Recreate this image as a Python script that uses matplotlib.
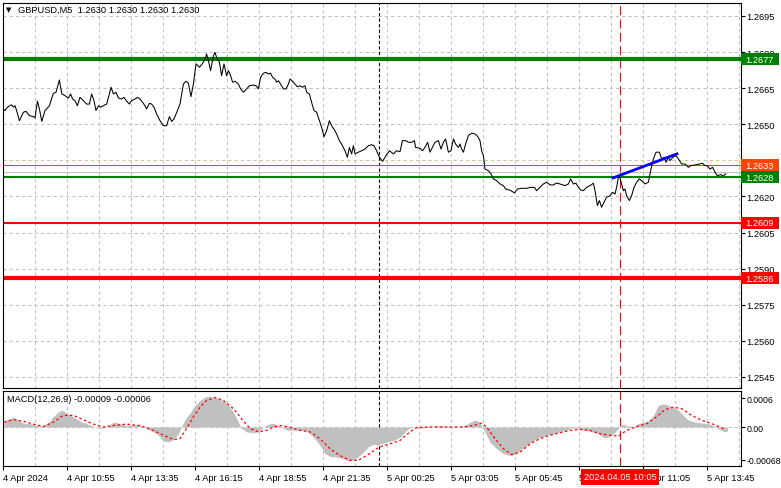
import matplotlib
matplotlib.use('Agg')
import matplotlib.pyplot as plt
from matplotlib.patches import Rectangle
from matplotlib.transforms import blended_transform_factory

plt.rcParams['font.family'] = ['Liberation Sans', 'DejaVu Sans']
FS = 6.7

# GBPUSD M5 close (bar index, price)
price_bar = [
    0, 0.5, 1.7, 3.8, 4.7, 5.5, 6.3, 7.7, 9.7, 11,
    12.7, 14.7, 15.5, 16.7, 17.7, 18.9, 20.5, 21.3, 22.7, 24.7,
    26, 27.7, 28.9, 30.5, 32.2, 33.3, 34.3, 35.5, 36.7, 38,
    39.7, 41.3, 42.7, 43.8, 45, 46, 47.2, 48.3, 49.7, 51.3,
    52.7, 53.5, 54.7, 56, 57.2, 58.8, 60, 61.3, 62.7, 63.8,
    65.5, 66.7, 68, 69.3, 70.5, 71.3, 72.7, 73.8, 75, 76.3,
    78, 79.7, 81.3, 82.7, 83.8, 85, 86.7, 88, 89.7, 91,
    92.2, 93.5, 94.7, 96, 97.7,
    99.3, 100.5, 101.3, 102.2, 103.3, 104.7, 105.5, 106.3, 107.7, 108.8,
    110, 111.3, 112.2, 113.3, 114.3, 115.5, 117.2, 118.3, 119.7, 121.3,
    122.7, 124.7, 126, 127.2, 128.3, 129.7, 131, 132.2, 133.3, 134.3,
    135.5, 136.3, 137.2, 138.3, 139.7, 141, 142.2, 143, 144.3, 145.5,
    146.7, 148, 149.3, 150.5, 151.3, 152.7, 153.8, 155, 156.3, 157.7,
    158.8, 160, 161.3, 162.7, 163.8, 165, 166.3, 167.7, 168.8, 170.5,
    171.7, 172.7, 173.8, 174.7, 175.5, 177.2, 178.8, 180.5, 182.2, 183.8,
    185, 186.3, 187.7, 189.3, 191, 192.7,
    194.7, 196.3, 198, 199.2, 200.8, 202.2, 203.8, 205.2, 205.8, 208,
    209.2, 210.5, 211.8, 213, 214.2, 215.5, 217.2, 218.5, 219.7, 220.8,
    222.2, 223.5, 224.7, 225.8, 227.2, 228, 228.8, 229.7, 230.8, 232.2,
    233.8, 235.5, 236.8, 238, 238.8, 239.7, 240.5, 242.2, 243.5, 244.7,
    246.3, 248, 249.7, 250.8, 252.2, 253.5, 255.2, 256.8, 258.8, 261.3,
    263.5, 265.2, 266.3, 268, 269.7, 271.3, 273, 274.7, 276.3, 278,
    280.5, 282.2, 283.3, 284.7, 286, 287.2, 288.3, 289.7, 291.3, 293,
    294.7, 295.5, 296.7, 297.7, 298.8, 300, 301.3, 303, 304.3, 305.5,
    306.3, 307.2, 307.7, 308.8, 309.7, 310.5, 311.3, 312.7, 313.8, 315,
    316.3, 317.7, 318.8, 320.5, 322.2, 323.3, 324.7, 326, 327.7, 328.8,
    330, 331, 332.2, 333, 334.7, 336, 337.2, 338.8, 340.5, 342.2,
    343.3, 346.3, 349.3, 350.5, 351.7, 353, 354.3, 355.5, 356.7, 358.3,
    359.7, 360.8,
]
price_close = [
    1.26560, 1.26557, 1.26571, 1.26581, 1.26571, 1.26577, 1.26557, 1.26515, 1.26550, 1.26554,
    1.26536, 1.26532, 1.26526, 1.26596, 1.26564, 1.26512, 1.26557, 1.26564, 1.26577, 1.26629,
    1.26633, 1.26684, 1.26626, 1.26619, 1.26609, 1.26626, 1.26605, 1.26598, 1.26577, 1.26612,
    1.26598, 1.26584, 1.26584, 1.26626, 1.26598, 1.26557, 1.26577, 1.26571, 1.26577, 1.26584,
    1.26626, 1.26654, 1.26626, 1.26633, 1.26609, 1.26605, 1.26612, 1.26596, 1.26584, 1.26598,
    1.26605, 1.26612, 1.26605, 1.26591, 1.26577, 1.26564, 1.26587, 1.26584, 1.26571, 1.26543,
    1.26515, 1.26494, 1.26494, 1.26532, 1.26512, 1.26522, 1.26557, 1.26584, 1.26667, 1.26679,
    1.26670, 1.26615, 1.26667, 1.26751, 1.26737,
    1.26753, 1.26771, 1.26792, 1.26764, 1.26723, 1.26785, 1.26799, 1.26778, 1.26758, 1.26702,
    1.26751, 1.26702, 1.26723, 1.26702, 1.26675, 1.26679, 1.26667, 1.26647, 1.26633, 1.26647,
    1.26660, 1.26663, 1.26660, 1.26647, 1.26695, 1.26712, 1.26716, 1.26709, 1.26712, 1.26695,
    1.26688, 1.26675, 1.26681, 1.26667, 1.26647, 1.26647, 1.26667, 1.26688, 1.26679, 1.26667,
    1.26656, 1.26660, 1.26654, 1.26660, 1.26633, 1.26626, 1.26591, 1.26557, 1.26550, 1.26515,
    1.26488, 1.26448, 1.26473, 1.26515, 1.26494, 1.26480, 1.26460, 1.26432, 1.26418, 1.26390,
    1.26363, 1.26404, 1.26377, 1.26411, 1.26377, 1.26384, 1.26390, 1.26397, 1.26411, 1.26415,
    1.26411, 1.26390, 1.26363, 1.26346, 1.26370, 1.26390,
    1.26377, 1.26390, 1.26386, 1.26432, 1.26432, 1.26425, 1.26425, 1.26432, 1.26404, 1.26400,
    1.26390, 1.26404, 1.26425, 1.26384, 1.26404, 1.26425, 1.26432, 1.26397, 1.26425, 1.26439,
    1.26384, 1.26390, 1.26439, 1.26418, 1.26404, 1.26418, 1.26397, 1.26384, 1.26418, 1.26453,
    1.26463, 1.26460, 1.26450, 1.26432, 1.26390, 1.26370, 1.26314, 1.26307, 1.26294, 1.26273,
    1.26266, 1.26252, 1.26245, 1.26231, 1.26228, 1.26224, 1.26215, 1.26231, 1.26234, 1.26234,
    1.26238, 1.26238, 1.26224, 1.26238, 1.26252, 1.26259, 1.26248, 1.26248, 1.26256, 1.26252,
    1.26245, 1.26252, 1.26273, 1.26252, 1.26255, 1.26238, 1.26227, 1.26224, 1.26238, 1.26245,
    1.26255, 1.26224, 1.26162, 1.26183, 1.26155, 1.26176, 1.26197, 1.26203, 1.26217, 1.26210,
    1.26238, 1.26280, 1.26286, 1.26252, 1.26224, 1.26231, 1.26203, 1.26183, 1.26203, 1.26238,
    1.26259, 1.26273, 1.26266, 1.26252, 1.26259, 1.26307, 1.26356, 1.26384, 1.26384, 1.26356,
    1.26363, 1.26342, 1.26363, 1.26349, 1.26365, 1.26370, 1.26356, 1.26335, 1.26335, 1.26321,
    1.26328, 1.26332, 1.26338, 1.26328, 1.26328, 1.26314, 1.26321, 1.26301, 1.26286, 1.26291,
    1.26285, 1.26294,
]

# MACD main (grey histogram)
hist_bar = [
    0, 1.3, 3.8, 5.5, 7.2, 9.7, 13, 16.3, 19.7, 22.2,
    24.7, 27.2, 28.8, 31.3, 34.7, 38, 41.3, 44.7, 48, 51.3,
    53.8, 55.5, 58, 61.3, 64.7, 68, 71.3, 74.7, 77.2, 79.7,
    82.2, 84.7, 87.2, 88.8, 90.5, 93, 95.5, 98, 100.5, 102.2,
    104.7, 107.2, 109.7, 112.2, 114.7, 117.2, 118.8, 121.3, 124.7, 127.2,
    129.7, 132.2, 134.7, 137.2, 139.7, 142.2, 144.7, 148, 151.3, 154.7,
    158, 160.5, 163, 166.3, 169.7, 172.2, 174.7, 177.2, 179.7, 182.2,
    184.7, 187.2,
    188, 191.3, 194.7, 198, 201.3, 203.8, 206.3, 209.7, 214.7, 218,
    221.3, 226.3, 230.5, 233, 235.5, 237.2, 238.8, 240.5, 243, 246.3,
    249.7, 253, 255.5, 258, 261.3, 264.7, 268, 271.3, 274.7, 278,
    281.3, 283.8, 287.2, 290.5, 293.8, 297.2, 299.7, 302.2, 304.7, 307.2,
    308.8, 311.3, 314.7, 317.2, 319.7, 322.2, 324.7, 327.2, 329.7, 332.2,
    334.7, 337.2, 339.7, 342.2, 345.5, 348.8, 352.2, 355.5, 358, 360.5,
    361.7,
]
hist_val = [
    0.0001, 0.00015, 0.00019, 0.00019, 0.00014, 0.00008, 0.00007, 0.00003, 0.00002, 0.0001,
    0.00022, 0.00031, 0.00035, 0.00029, 0.00021, 0.00012, 0.00007, 0.00001, -0.00003, -0.00001,
    0.00008, 0.0001, 0.00007, 0.00003, 0.00005, 0.00003, -0.00003, -0.0001, -0.00017, -0.00029,
    -0.00031, -0.00026, -0.00014, 0.00001, 0.00015, 0.00029, 0.00045, 0.00055, 0.00062, 0.00064,
    0.00062, 0.00059, 0.00054, 0.00045, 0.00031, 0.0001, -0.00003, -0.0001, -0.00012, -0.0001,
    0.0, 0.00006, 0.00008, 0.00003, -0.00003, -0.00007, -0.00006, -0.00007, -0.00008, -0.00021,
    -0.00038, -0.00055, -0.00061, -0.00062, -0.00066, -0.0007, -0.00069, -0.00061, -0.00052, -0.00041,
    -0.00036, -0.00038,
    -0.00035, -0.00031, -0.00028, -0.00021, -0.00007, 0.00001, -0.00003, -0.00002, 0.00001, 0.00003,
    0.0, -0.00001, 0.00003, 0.0001, 0.00014, 0.00012, 0.00003, -0.0001, -0.00031, -0.00045,
    -0.00055, -0.00059, -0.00057, -0.00048, -0.00038, -0.00028, -0.00021, -0.00017, -0.00014, -0.0001,
    -0.00006, -0.00002, -0.00003, -0.00007, -0.00009, -0.00014, -0.00022, -0.00021, -0.00014, -0.00003,
    0.00006, 0.00003, 0.0, 0.00007, 0.0001, 0.00012, 0.00024, 0.00045, 0.00048, 0.00045,
    0.0004, 0.00035, 0.00024, 0.00014, 0.0001, 0.00008, 0.00007, 0.00001, -0.00006, -0.0001,
    -0.00008,
]

# MACD signal (red dotted)
sig_bar = [
    0, 4.7, 9.7, 14.7, 19.7, 24.7, 29.7, 34.7, 39.7, 44.7,
    49.7, 54.7, 61.3, 68, 74.7, 79.7, 84.7, 88, 91.3, 94.7,
    98, 101.3, 105.5, 109.7, 114.7, 118.8, 123, 127.2, 131.3, 134.7,
    138.8, 143, 148, 153, 158, 163, 168, 173, 177.2, 181.3,
    186.3, 188, 193, 198, 203, 206.3, 213, 221.3, 229.7, 234.7,
    238.8, 241.3, 245.5, 249.7, 253.8, 258, 263, 268, 273, 278,
    283, 288, 293, 298, 303, 307.2, 311.3, 316.3, 321.3, 326.3,
    330.5, 334.7, 338.8, 343.8, 348.8, 353.8, 359.7,
]
sig_val = [
    0.0001, 0.00015, 0.00012, 0.00006, 0.00001, 0.0001, 0.00024, 0.00024, 0.00015, 0.00006,
    0.0, 0.00003, 0.00006, 0.00003, -0.00007, -0.00017, -0.00026, -0.00024, -0.00003, 0.00021,
    0.00041, 0.00055, 0.00061, 0.00055, 0.00038, 0.00017, -0.00003, -0.0001, -0.00007, 0.0,
    0.00003, -0.00001, -0.00007, -0.0001, -0.00024, -0.00045, -0.00059, -0.00069, -0.00069, -0.00059,
    -0.00045, -0.00041, -0.00035, -0.00028, -0.0001, -0.00001, 0.0, 0.0, 0.0, 0.00003,
    0.00008, 0.0, -0.00024, -0.00045, -0.00057, -0.00052, -0.00035, -0.00024, -0.00017, -0.00012,
    -0.00007, -0.00005, -0.00007, -0.00014, -0.00017, -0.00019, -0.00007, 0.00001, 0.00007, 0.00021,
    0.00036, 0.00041, 0.00038, 0.00024, 0.00014, 0.00007, -0.00003,
]

# horizontal levels drawn on the chart
level_price = [1.2677, 1.2628, 1.2609, 1.2586]
level_color = ['#008000', '#008000', '#FF0000', '#FF0000']
level_width = [3.0, 1.5, 1.5, 3.0]
ask_price = 1.2633
bid_price = 1.2630

# blue trend segment
trend_bar = [304.5, 336.5]
trend_price = [1.26277, 1.26377]

price_ticks = [1.2545, 1.2560, 1.2575, 1.2590, 1.2605, 1.2620, 1.2635,
               1.2650, 1.2665, 1.2680, 1.2695]
time_labels = ['4 Apr 2024', '4 Apr 10:55', '4 Apr 13:35', '4 Apr 16:15',
               '4 Apr 18:55', '4 Apr 21:35', '5 Apr 00:25', '5 Apr 03:05',
               '5 Apr 05:45', '5 Apr 08:25', '5 Apr 11:05', '5 Apr 13:45']
day_sep_bar = 187.5
cursor_bar = 308
cursor_label = '2024.04.05 10:05'

W, H = 781, 489
fig = plt.figure(figsize=(W / 100, H / 100), dpi=100)
fig.patch.set_facecolor('white')


def fx(px):
    return px / W


def fy(py):
    return 1 - py / H


ax = fig.add_axes([fx(3), fy(389), fx(741) - fx(3), fy(4) - fy(389)])
ax2 = fig.add_axes([fx(3), fy(467), fx(741) - fx(3), fy(392) - fy(467)])

grid_kw = dict(color='#C0C0C0', lw=0.75, ls=(0, (3, 3)), zorder=0)
grid_bars = [16 * k - 0.5 for k in range(1, 24)]
for a in (ax, ax2):
    a.set_xlim(-0.5, 368.5)
    for b in grid_bars:
        a.axvline(b, **grid_kw)
    for s in a.spines.values():
        s.set_linewidth(0.8)
        s.set_color('black')
    a.axvline(day_sep_bar, color='black', lw=0.8, ls=(0, (3, 2)), zorder=1)
    a.axvline(cursor_bar, color='red', lw=0.8, ls=(0, (8, 4)), zorder=1)

# ---- main price panel
ax.set_ylim(1.25404, 1.27004)
for p in price_ticks:
    ax.axhline(p, **grid_kw)

ax.axhline(bid_price, color='#C0C0C0', lw=0.75, zorder=2)
ax.axhline(ask_price, color='#FF4500', lw=0.75, zorder=2)
for p, c, w in zip(level_price, level_color, level_width):
    ax.axhline(p, color=c, lw=w, zorder=2)

ax.plot(price_bar, price_close, color='black', lw=0.75, zorder=3)
ax.plot(trend_bar, trend_price, color='#0000FF', lw=2.0, zorder=4)

ax.set_xticks([])
ax.yaxis.tick_right()
ax.set_yticks(price_ticks)
ax.set_yticklabels(['%.4f' % p for p in price_ticks])
ax.tick_params(axis='y', length=3, width=0.8, pad=1, labelsize=FS)

# price tags on the right scale
tr = blended_transform_factory(fig.transFigure, ax.transData)
tag_h = 12 * (1.27004 - 1.25404) / 385
tags = [(bid_price, '#000000'), (ask_price, '#FF4500')]
tags += list(zip(level_price, level_color))
for i, (p, c) in enumerate(tags):
    fig.add_artist(Rectangle((fx(741), p - tag_h / 2), fx(779) - fx(741), tag_h,
                             transform=tr, facecolor=c, edgecolor='none',
                             zorder=5 + i * 0.1))
    fig.text(fx(745), p, '%.4f' % p, transform=tr, ha='left', va='center',
             fontsize=FS, color='white', zorder=5.05 + i * 0.1)

fig.text(fx(6), fy(10), '\u25BC', fontsize=5, va='center', ha='left',
         family=['DejaVu Sans'])
fig.text(fx(18), fy(10), 'GBPUSD,M5  1.2630 1.2630 1.2630 1.2630',
         fontsize=FS, va='center', ha='left')

# ---- MACD panel
ax2.set_ylim(-0.000807, 0.000745)
ax2.axhline(0, **grid_kw)
ax2.fill_between(hist_bar, hist_val, 0, color='#C0C0C0', lw=0, zorder=2)
ax2.plot(sig_bar, sig_val, color='red', lw=0.9, ls=(0, (2, 2)), zorder=3)

ax2.yaxis.tick_right()
ax2.set_yticks([0.0006, 0.0, -0.00068])
ax2.set_yticklabels(['0.0006', '0.00', '-0.00068'])
ax2.tick_params(axis='y', length=3, width=0.8, pad=1, labelsize=6.3)

ax2.set_xticks([32 * k - 0.5 for k in range(len(time_labels))])
ax2.set_xticklabels(time_labels, ha='left')
ax2.tick_params(axis='x', length=3, width=0.8, pad=2, labelsize=FS)

fig.text(fx(7), fy(400), 'MACD(12,26,9) -0.00009 -0.00006',
         fontsize=FS, va='center', ha='left')

tr2 = blended_transform_factory(ax2.transData, fig.transFigure)
fig.text(cursor_bar, fy(478), cursor_label, transform=tr2, ha='center',
         va='center', fontsize=FS, color='white', zorder=6,
         bbox=dict(facecolor='red', edgecolor='none', pad=2.2))

fig.savefig('out.png', dpi=100)
